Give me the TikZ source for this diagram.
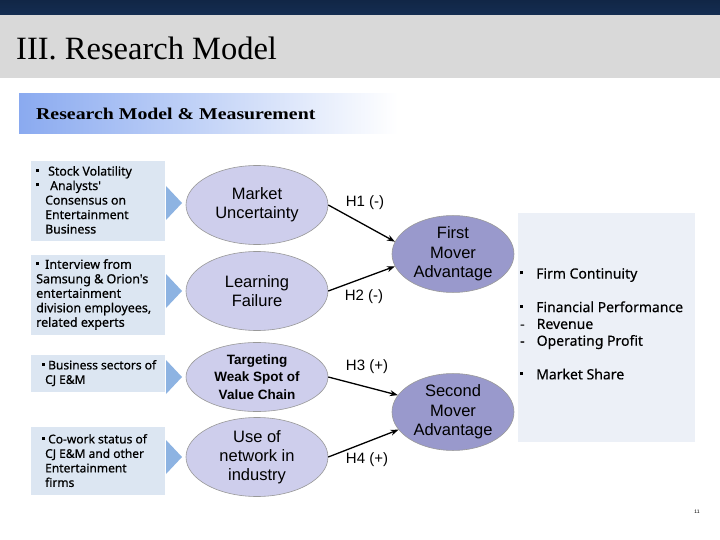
\documentclass[tikz,border=0pt]{standalone}
\usepackage{fontspec}
\setmainfont{Liberation Serif}
\newfontfamily\titlefont{Liberation Serif}
\newfontfamily\subfont[FakeStretch=1.2]{Liberation Serif}
\newfontfamily\afont{Liberation Sans}
\newfontfamily\kfont[FakeBold=0.6]{Noto Sans}
\newfontfamily\rfont[FakeBold=0.4]{Noto Sans}
\usetikzlibrary{arrows.meta,shapes.geometric}
\definecolor{navy}{RGB}{20,45,82}
\definecolor{bandgrey}{RGB}{217,217,217}
\definecolor{bannerL}{RGB}{138,170,240}
\definecolor{boxblue}{RGB}{220,230,242}
\definecolor{tri}{RGB}{141,179,226}
\definecolor{ellL}{RGB}{206,206,236}
\definecolor{ellD}{RGB}{153,153,204}
\definecolor{rbox}{RGB}{236,240,247}
\newcommand{\bulgap}[1]{\rule[0.3em]{3pt}{3pt}\hspace{#1}}
\tikzset{
  srctext/.style={anchor=north west, inner sep=0pt, align=left, font=\kfont\fontsize{12}{14.5}\selectfont},
  chev/.style={fill=tri, draw=none},
  constr/.style={ellipse, draw=gray!80, line width=0.6pt, fill=ellL, minimum width=142pt, minimum height=79pt, inner sep=0pt, align=center, font=\afont\fontsize{16.5}{19}\selectfont},
  outc/.style={ellipse, draw=gray!80, line width=0.6pt, fill=ellD, minimum width=122pt, minimum height=73pt, inner sep=0pt, align=center, font=\afont\fontsize{16.5}{19.5}\selectfont},
  hyp/.style={-{Stealth[length=8pt,width=6pt]}, line width=1.3pt, black},
  hlabel/.style={font=\afont\fontsize{15}{15}\selectfont, inner sep=0pt}
}
\begin{document}
\begin{tikzpicture}[x=1pt,y=-1pt]
\useasboundingbox (0,0) rectangle (720,540);
\fill[white] (0,0) rectangle (720,540);
% header
\shade[top color=navy!85!black, bottom color=navy] (0,0) rectangle (720,15);
\fill[bandgrey] (0,15) rectangle (720,78);
\node[anchor=base west, inner sep=0pt, font=\titlefont\fontsize{32.5}{32.5}\selectfont] (title) at (16,60) {III. Research Model};
% banner
\shade[left color=bannerL, right color=white] (19,94) rectangle (398,134);
\node[anchor=base west, inner sep=0pt, font=\subfont\bfseries\fontsize{16.5}{16.5}\selectfont] (sub) at (36,120) {Research Model \& Measurement};
% left boxes
\fill[boxblue] (31,161) rectangle (165,241);
\fill[boxblue] (31,255) rectangle (165,335);
\fill[boxblue] (31,355) rectangle (165,392);
\fill[boxblue] (31,427) rectangle (165,495);
\node[srctext, font=\kfont\fontsize{12.3}{14.5}\selectfont] (t1) at (36,166) {\bulgap{9pt}Stock Volatility\\\bulgap{11pt}Analysts'\\\hspace*{9pt}Consensus on\\\hspace*{9pt}Entertainment\\\hspace*{9pt}Business};
\node[srctext, font=\kfont\fontsize{12.5}{14.5}\selectfont] (t2) at (36,259) {\bulgap{6pt}Interview from\\Samsung \& Orion's\\entertainment\\division employees,\\related experts};
\node[srctext] (t3) at (42,360) {\bulgap{3pt}Business sectors of\\\hspace*{3pt}CJ E\&M};
\node[srctext] (t4) at (42,434) {\bulgap{3pt}Co-work status of\\\hspace*{3pt}CJ E\&M and other\\\hspace*{3pt}Entertainment\\\hspace*{3pt}firms};
% chevrons
\fill[chev] (166,186) -- (182,203) -- (166,220) -- cycle;
\fill[chev] (166,274) -- (182,291) -- (166,308) -- cycle;
\fill[chev] (166,360) -- (182,377) -- (166,394) -- cycle;
\fill[chev] (166,440) -- (182,457) -- (166,474) -- cycle;
% right box
\fill[rbox] (518,213) rectangle (695,442);
\node[anchor=north west, inner sep=0pt, align=left, font=\rfont\fontsize{14}{16.8}\selectfont] (meas) at (520,268) {\bulgap{13pt}Firm Continuity\\[16.8pt]\bulgap{13pt}Financial Performance\\-\hspace{12pt}Revenue\\-\hspace{12pt}Operating Profit\\[16.8pt]\bulgap{13pt}Market Share};
% constructs
\node[constr] (mu) at (257,205) {Market\\Uncertainty};
\node[constr] (lf) at (257,291) {Learning\\Failure};
\node[constr, minimum height=69pt, font=\afont\bfseries\fontsize{13.5}{17.5}\selectfont] (tw) at (257,377) {Targeting\\Weak Spot of\\Value Chain};
\node[constr] (un) at (257,457) {Use of\\network in\\industry};
\node[outc] (fm) at (453,254) {First\\Mover\\Advantage};
\node[outc] (sm) at (453,412) {Second\\Mover\\Advantage};
% hypotheses
\draw[hyp] (mu.east) -- (fm.168);
\draw[hyp] (lf.east) -- (fm.192);
\draw[hyp] (tw.east) -- (sm.163);
\draw[hyp] (un.east) -- (sm.198);
\node[hlabel] (h1) at (365,203) {H1 (-)};
\node[hlabel] (h2) at (364,297) {H2 (-)};
\node[hlabel] (h3) at (367,367) {H3 (+)};
\node[hlabel] (h4) at (367,460) {H4 (+)};
% page number
\node[font=\afont\fontsize{5}{5}\selectfont, inner sep=0pt] (pg) at (697,512) {11};
\end{tikzpicture}
\end{document}
